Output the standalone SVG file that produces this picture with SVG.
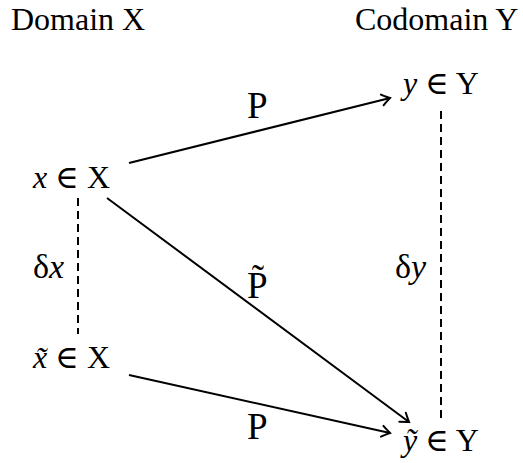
<svg xmlns="http://www.w3.org/2000/svg" width="523" height="463" viewBox="0 0 523 463">
<defs>
<style>
text{font-family:"Liberation Serif","DejaVu Serif",serif;font-size:32px;fill:#000}
.i{font-style:italic}
.big{font-size:37px}
.d{font-size:34px}
.edge{stroke:#000;stroke-width:2;fill:none}
.dash{stroke:#000;stroke-width:2;fill:none;stroke-dasharray:8,5}
</style>
<marker id="to" viewBox="-10 -7 12 14" markerWidth="12" markerHeight="14" refX="0" refY="0" orient="auto" markerUnits="userSpaceOnUse">
<path d="M -8 -5.5 Q -2.5 -1.5 0 0 Q -2.5 1.5 -8 5.5" stroke="#000" stroke-width="2" fill="none" stroke-linecap="round"/>
</marker>
</defs>
<rect width="523" height="463" fill="#fff"/>
<g id="header-domain"><text x="11" y="30">Domain X</text></g>
<g id="header-codomain"><text x="355" y="30">Codomain Y</text></g>
<g id="node-x"><text x="33" y="188"><tspan class="i">x</tspan> ∈ X</text></g>
<g id="node-y"><text x="403" y="94"><tspan class="i">y</tspan> ∈ Y</text></g>
<g id="node-xt"><text x="33" y="368"><tspan class="i">x̃</tspan> ∈ X</text></g>
<g id="node-yt"><text x="403" y="451"><tspan class="i">ỹ</tspan> ∈ Y</text></g>
<g id="connectors">
<line class="edge" x1="129" y1="163" x2="390" y2="98" marker-end="url(#to)"/>
<line class="edge" x1="107" y1="198" x2="409" y2="422" marker-end="url(#to)"/>
<line class="edge" x1="129" y1="375" x2="390" y2="433" marker-end="url(#to)"/>
<line class="dash" x1="78" y1="198" x2="78" y2="334"/>
<line class="dash" x1="441" y1="111" x2="441" y2="421"/>
</g>
<g id="labels">
<text class="big" x="247" y="118">P</text>
<text class="big" x="247" y="298">P̃</text>
<text class="big" x="247" y="439">P</text>
<text class="d" x="33" y="278">δ<tspan class="i">x</tspan></text>
<text class="d" x="395" y="278">δ<tspan class="i">y</tspan></text>
</g>
</svg>
